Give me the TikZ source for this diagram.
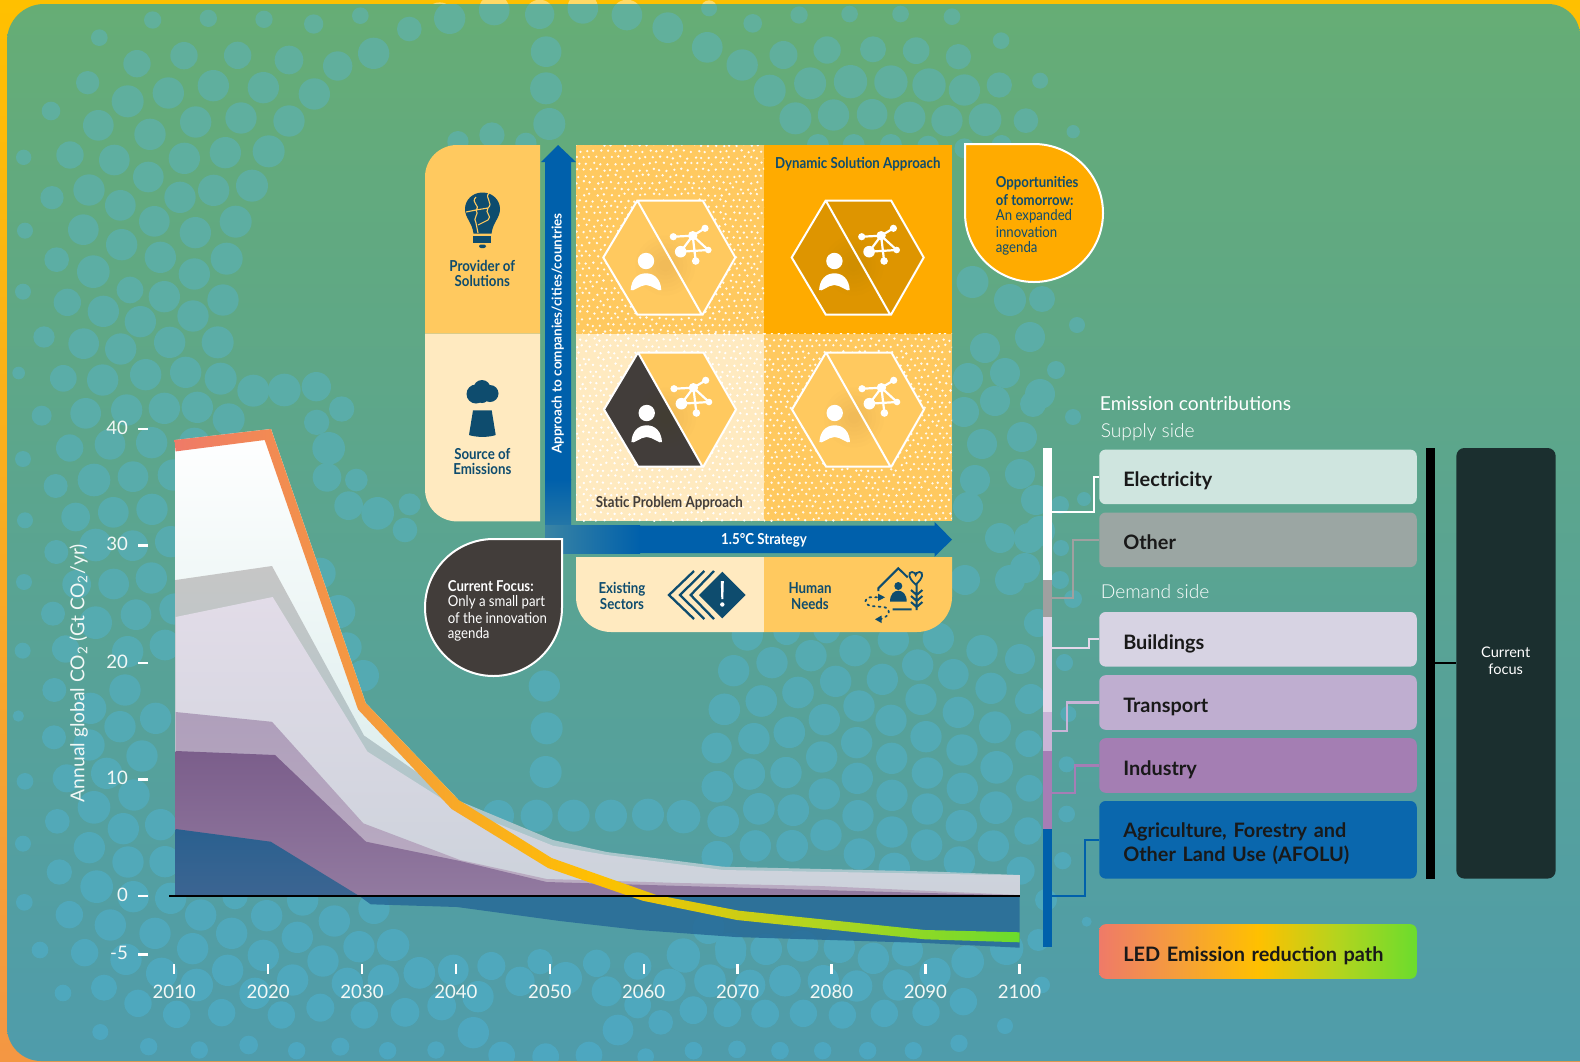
\documentclass[tikz,border=0pt]{standalone}
\usepackage{fontspec}
\usetikzlibrary{calc}
\setmainfont{Lato}
\newfontfamily\lalight{Lato Light}
\newfontfamily\nrw[FakeStretch=0.88]{Lato}
\definecolor{bubT}{HTML}{61B09B}
\definecolor{bubB}{HTML}{4DA7C0}
\definecolor{navy}{HTML}{0E4C6E}
\definecolor{charc}{HTML}{423D3A}
\definecolor{midor}{HTML}{FFC95F}
\definecolor{lightor}{HTML}{FFEAC0}
\definecolor{stror}{HTML}{FFAB00}
\definecolor{darkor}{HTML}{DE9500}
\definecolor{arrowb}{HTML}{0060AB}
\definecolor{arrowf}{HTML}{3A84A4}
\definecolor{ledA}{HTML}{EF7A68}
\definecolor{ledB}{HTML}{F59E3A}
\definecolor{ledC}{HTML}{FFC000}
\definecolor{ledD}{HTML}{B4D41E}
\definecolor{ledE}{HTML}{6BDC2D}
\definecolor{pT}{RGB}{102,173,117}
\definecolor{pM}{RGB}{93,168,146}
\definecolor{pB}{RGB}{79,156,171}
\definecolor{elB}{RGB}{210,232,231}
\definecolor{otT}{RGB}{198,198,198}
\definecolor{otM}{RGB}{196,205,203}
\definecolor{otB}{RGB}{166,198,204}
\definecolor{buT}{RGB}{226,220,232}
\definecolor{buB}{RGB}{204,210,219}
\definecolor{trT}{RGB}{175,159,187}
\definecolor{trB}{RGB}{186,172,194}
\definecolor{inT}{RGB}{123,94,139}
\definecolor{inB}{RGB}{146,122,160}
\definecolor{afT}{RGB}{42,96,143}
\definecolor{afB}{RGB}{60,101,146}
\definecolor{afN}{RGB}{40,107,152}
\definecolor{sgOther}{RGB}{160,160,160}
\definecolor{sgBuild}{RGB}{227,216,234}
\definecolor{sgTrans}{RGB}{201,180,215}
\definecolor{sgInd}{RGB}{166,125,181}
\definecolor{bxE}{RGB}{207,229,223}
\definecolor{bxO}{RGB}{155,166,163}
\definecolor{bxB}{RGB}{215,211,227}
\definecolor{bxT}{RGB}{191,174,208}
\definecolor{bxI}{RGB}{164,126,179}
\definecolor{bxA}{RGB}{10,103,173}
\definecolor{bxF}{RGB}{27,47,47}
\pgfdeclarehorizontalshading{ledshade}{100bp}{color(0bp)=(ledA); color(25bp)=(ledA); color(37.5bp)=(ledB); color(50bp)=(ledC); color(62.5bp)=(ledD); color(75bp)=(ledE); color(100bp)=(ledE)}
\newcommand\bubs[5]{\foreach \qa/\qb/\qc in {#5}{\pgfmathsetmacro\bx{#1+\qa/#3}\pgfmathsetmacro\by{#2+\qb/#4}\pgfmathsetmacro\br{\qc/#4}\pgfmathtruncatemacro\bt{min(100,max(0,\by/10.61))}\fill[bubB!\bt!bubT] (\bx,\by) circle[radius=\br];}}
\newcommand\dotfield[5]{\begin{scope}\clip (#1,#2) rectangle (#3,#4);
\foreach \i in {0,...,31}{\foreach \j in {0,...,27}{\pgfmathsetmacro\ddx{#1+7.0*\j+3.5*mod(\i,2)+1.3*rand}\pgfmathsetmacro\ddy{#2+6.2*\i+1.3*rand}\fill[#5] (\ddx,\ddy) circle[radius=1.3];}}\end{scope}}
\newcommand\hexicon[4]{\begin{scope}[shift={(#1,#2)}]
\fill[#3] (-66,0)--(-32,-57)--(32.4,57)--(-32,57)--cycle;
\fill[#4] (-32,-57)--(33.4,-57)--(66,0)--(33.4,57)--(32.4,57)--cycle;
\begin{scope}\clip (-66,0)--(-32,-57)--(33.4,-57)--(66,0)--(33.4,57)--(-32,57)--cycle;
\foreach \gr in {6,10,14,18,22,26,30}{\fill[black!40!brown,opacity=.012] (-4,8) circle[radius=\gr];}\end{scope}
\draw[white,line width=1pt,line join=miter] (-66,0)--(-32,-57)--(33.4,-57)--(66,0)--(33.4,57)--(-32,57)--cycle (-32,-57)--(32.4,57);
\fill[white] (-23.3,3.5) circle[radius=8.2];
\fill[white] (-38.6,32.5) .. controls (-38,22) and (-32,15.8) .. (-23.3,15.8) .. controls (-14.6,15.8) and (-8.6,22) .. (-8,32.5) .. controls (-10,35) and (-17,27.5) .. (-23.3,27.5) .. controls (-29.6,27.5) and (-36.6,35) .. (-38.6,32.5) -- cycle;
\draw[white,line width=1.1pt] (23.4,-21.8)--(35.7,-29.2) (23.4,-21.8)--(4,-20.8) (23.4,-21.8)--(11.4,-5.8) (23.4,-21.8)--(26.4,3.5) (23.4,-21.8)--(39,-7.5) (11.4,-5.8)--(39,-7.5);
\fill[white] (23.4,-21.8) circle[radius=4.7] (35.7,-29.2) circle[radius=3.6] (4,-20.8) circle[radius=3.6] (11.4,-5.8) circle[radius=5.8] (26.4,3.5) circle[radius=3.8] (39,-7.5) circle[radius=3.3];
\end{scope}}
\tikzset{
 gridtxt/.style={font=\nrw\bfseries\fontsize{7.55}{7.9}\selectfont,text=navy,align=center,inner sep=0pt},
 tick/.style={white,line width=1.2pt},
 ylab/.style={font=\fontsize{9.3}{11}\selectfont,text=white!92!pM,anchor=east,inner sep=0pt},
 xlab/.style={font=\fontsize{9.3}{11}\selectfont,text=white!92!pM,inner sep=0pt},
 catbox/.style={rounded corners=3.2pt,minimum width=158.75pt,minimum height=27.3pt,inner xsep=12pt,inner ysep=0pt,text width=134.75pt,align=left,font=\bfseries\fontsize{9.95}{12}\selectfont,text=black!90,text height=10pt,text depth=0pt},
 stepline/.style={line width=1.05pt},
 headtxt/.style={font=\fontsize{9.6}{11.5}\selectfont,text=white,anchor=west,inner sep=0pt},
 subtxt/.style={font=\lalight\fontsize{9.6}{11.5}\selectfont,text=white,anchor=west,inner sep=0pt},
 bubtxt/.style={font=\nrw\fontsize{7.5}{8}\selectfont,anchor=west,inner sep=0pt},
 bubbold/.style={bubtxt,font=\nrw\bfseries\fontsize{7.5}{8}\selectfont},
}
\begin{document}
\begin{tikzpicture}[x=0.5pt,y=-0.5pt]
\useasboundingbox (0,0) rectangle (1580,1061);
% frame
\shade[top color=ledC,bottom color=ledB!80!ledA] (0,0) rectangle (1580,1061);
\fill[ledC!60!white] (494.2,10) circle[radius=15.3] (582.7,8.3) circle[radius=15.3] (627,15) circle[radius=15.3] (439.7,18) circle[radius=15.6] (539.7,14.3) circle[radius=14.6] (709,8.3) circle[radius=8];
% panel
\def\panelpath{(7,41) .. controls (7,20.6) and (23.6,4) .. (44,4) -- (1548,4) .. controls (1565.7,4) and (1580,18.3) .. (1580,36) -- (1580,1061) -- (41,1061) .. controls (22.2,1061) and (7,1045.8) .. (7,1027) -- cycle}
\shade[top color=pT,middle color=pM,bottom color=pB] \panelpath;
\begin{scope}\clip \panelpath;
\bubs{0}{0}{3}{3}{458/60/26,625/55/26,792/58/26,941/72/29,1081/47/25,298/113/25,411/191/41,552/167/41,713/166/41,867/180/43,1013/198/44,1121/160/47,263/248/35,383/304/48,505/279/47,640/257/47,790/263/47,943/282/47,153/333/28,295/376/46,450/403/47,587/366/47,723/354/47,867/363/47,71/472/23,210/465/41,343/480/46,553/475/47,676/458/47,806/454/48,445/531/46,267/570/47,156/593/35,361/616/46,540/592/47,641/571/47,756/557/48,75/692/24,250/689/46,463/664/46,586/698/47,707/665/48,170/779/37,365/734/47,280/815/49,481/772/47,583/822/47,680/776/48}
\bubs{0}{290}{3}{3}{69/5/24,202/37/41,310/64/47,390/0/40,493/20/47,421/95/47,579/78/47,669/30/47,132/141/32,251/161/46,362/177/47,509/157/47,653/157/48,56/249/19,190/265/40,308/270/47,437/254/47,557/247/47,662/266/48,760/302/48,853/300/49,949/290/44,125/377/30,257/370/46,380/360/47,493/355/47,592/352/47,686/388/48,1025/357/38,950/397/38,583/460/47,209/474/41,330/463/46,455/458/47,69/507/24,986/475/49,282/570/49,399/560/46,520/555/47,167/588/36,981/562/43,1069/570/34,340/667/46,456/658/47,227/681/43,75/691/24,1046/647/43,1133/670/49,1229/643/33,1215/720/37,512/755/47,398/767/46,169/786/36,287/765/49,960/850/47,454/864/47,341/882/46,72/876/24,230/883/43,1016/965/50,408/974/46,287/998/49,159/971/36,525/957/47,495/1065/46,383/1085/47,197/1077/41,68/1082/24,1040/1072/45,1090/1157/47}
\bubs{0}{680}{3}{3}{55/108/17,163/30/36,272/85/47,375/30/47,360/140/47,467/115/47,162/172/36,267/195/47,426/228/47,320/280/47,200/295/42,75/304/25,402/345/47,282/382/49,172/424/37,370/446/47,482/434/47,69/491/24,268/503/47,384/546/47,495/545/47,178/576/38,290/620/49,400/650/47,512/655/47,73/667/25,208/704/41,331/735/47,602/705/47,705/650/38,800/707/47,908/660/47,1003/723/47,1122/685/47,465/760/47,695/760/47,892/772/47,578/806/47,254/818/41,120/810/25,790/826/47,969/843/47,1077/800/47,1178/796/47,378/838/47,683/871/47,485/880/47,878/900/47,1042/910/47,1150/900/47,1258/878/47,590/915/49,312/923/39,189/939/25,765/940/47,414/970/41,530/1003/41,665/998/41,844/1005/41,961/983/42,1093/1005/41,1216/998/41,301/1056/24,446/1100/26,598/1110/26,746/1095/28,890/1112/26,1021/1100/27,1163/1112/26}
\bubs{400}{680}{3}{3}{433/18/47,440/145/48,437/276/48,295/407/47,410/407/48,521/407/48,633/407/48,744/404/48,853/411/48,973/88/47,1084/63/47,1194/38/47,1168/157/47,1061/176/46,950/205/45,1049/283/46,1158/278/47,952/320/47,1077/386/47,1180/391/47,969/424/47,1066/497/46,1176/497/47,952/530/47,-20/795/48,58/879/47,160/870/46,274/858/42,420/845/38,360/904/44,497/895/49,590/850/41,620/934/45,713/858/41,808/915/49,855/834/44,930/905/47,992/820/46,1098/808/47,1050/915/46,1155/902/47,234/950/47,125/978/43,15/997/43,713/975/40,880/991/41,982/1000/41,1096/1002/41,220/1058/47,654/1050/46,782/1027/37,108/1110/26,305/1125/40,437/1130/40,567/1125/40,737/1130/25,881/1112/26,1011/1108/26,1140/1112/26,925/745/47}
\bubs{680}{630}{3}{3}{202/15/47,320/5/40,440/0/40,640/30/47,775/25/47,525/62/47,393/77/47,276/98/47,161/122/47,713/105/47,906/62/47,1018/90/42,467/154/47,607/148/47,820/133/46,354/187/47,933/175/47,723/208/47,244/213/47,537/228/47,133/238/47,1045/212/40,835/247/47,433/269/47,633/271/47,328/307/47,945/292/48,222/326/47,530/338/47,738/320/47,110/353/45,1046/341/40,846/360/47,425/381/47,635/385/47,318/427/46,950/412/49,208/432/47,532/445/47,742/429/47,847/475/47,112/470/47,1048/475/40,433/492/47,636/496/47,340/540/47,236/537/47,534/557/47,742/537/47,948/533/49,10/560/50,130/574/47,844/587/47,438/615/47,636/606/47,1044/603/41,337/648/47,226/648/47,740/645/47,538/672/47,940/648/47,112/680/47,838/696/47,643/715/47,1022/722/42,1153/97/25,1165/252/24,1160/403/24,1160/552/25,1148/692/26,1220/875/15,1098/810/33,1075/930/33,88/890/45,152/955/47,260/958/46,368/948/47,478/952/47,580/985/47,682/962/47,10/975/50,863/995/49,980/955/50,90/1050/47,315/1052/47,430/1052/47,530/1068/47,655/1065/47,765/1030/47,850/1115/41,40/1140/41,142/1147/41,255/1150/41,370/1150/41,487/1155/41,613/1150/41,738/1147/41,975/1188/24,1085/1065/25,40/1262/26,171/1258/26,300/1262/26,428/1262/26,563/1262/26,700/1262/26,837/1240/26}
\bubs{390}{0}{2.178}{3}{42/87/37,130/55/47,227/30/46,326/43/44,420/25/46,516/45/46,605/83/46,695/25/24,790/70/28,891/45/26,1001/42/25,1112/42/25,1224/50/25,1331/122/25,340/155/46,691/142/46,857/165/42,952/150/41,1052/148/39,1146/152/40,1238/170/38,767/195/47,340/265/48,915/250/48,1003/245/50,1091/246/50,1174/255/50,1251/270/47,1327/255/38,1416/242/24,827/272/48,347/372/48,883/355/48,966/345/47,1050/343/46,1132/352/47,1213/362/47,1296/359/49,1385/362/37,1488/395/20,222/405/38,148/425/32,296/430/32,932/435/33,1010/435/33,1091/435/33,1172/440/33,1251/445/30,1332/435/30}
\bubs{0}{0}{1}{1}{972.5/282/16,1010/300/16,1042/299/13,1077/325/8,985/348/15,1030/337/15,968/378/15,1005/373/15,1056/370/9,995/401/15,1040/394/15,1073/417/8,964/412/15,982/444/15,1022/437/15,975/480/15,1020/474/15,968/507/15,1000/538/15,1040/531/15,1060/505/9,965/580/15,1010/580/15,1060/580/9,1033/404/13,1084/499/7,1061/548/8,1073/599/9,1036/500/15,1029/538/15,1025/568/15,1038/623/14,1020/659/15,1031/698/14,1065/663/8}
\end{scope}
% --- chart ---
\shade[top color=white,bottom color=elB] (175.6,440)--(271,429)--(365.7,703)--(458.6,800)--(458.6,896)--(175.6,896)--cycle;
\shade[top color=otT,middle color=otM,bottom color=otB] (175.6,580)--(272,566)--(364,735.5)--(457,800)--(553,840)--(606.7,852)--(723,866.7)--(936.7,871.7)--(1019.7,875)--(1019.7,896)--(175.6,896)--cycle;
\shade[top color=buT,bottom color=buB] (175.6,617)--(272.7,597)--(367.4,751.6)--(453,805.8)--(553,845.7)--(606.7,855)--(723,870)--(1003,875)--(1019.7,875)--(1019.7,896)--(175.6,896)--cycle;
\shade[top color=trT,bottom color=trB] (175.6,712)--(272,721.8)--(363.3,823.3)--(460,860)--(546.7,879)--(680,883)--(820,886)--(1019.7,895)--(1019.7,896)--(175.6,896)--cycle;
\shade[top color=inT,bottom color=inB] (175.6,751)--(275,755)--(366,841.7)--(460,861)--(546.7,882)--(820,890)--(1019.7,895.5)--(1019.7,896)--(175.6,896)--cycle;
\shade[top color=afT,bottom color=afB] (175.6,829)--(270.7,841.7)--(359.3,896)--(175.6,896)--cycle;
\fill[afN,fill opacity=.88] (359.3,896)--(1019.7,896)--(1019.7,947.7)--(925,943)--(735.6,937)--(639,930)--(560,921)--(457,907)--(370.7,904.3)--cycle;
\shade[shading=ledshade] (174.5,440)--(271,429)--(365.7,703)--(458.6,800)--(551.6,858)--(656.4,895)--(739,910.7)--(925,930)--(1019.7,932.3)--(1019.7,942.3)--(925,939.3)--(737,920)--(642.6,900.7)--(548,868)--(451.6,809)--(358,709.4)--(264.7,440)--(175.6,451.4)--cycle;
\coordinate (zl) at (169,896); \coordinate (zr) at (1019.7,896);
\draw[black,line width=1pt] (zl)--(zr);
% y axis
\foreach \v/\yy in {40/429,30/545.4,20/662.8,10/779.3,0/896,-5/954.3}{
 \draw[tick] (138,\yy)--(147.5,\yy);
 \node[ylab] (yl\v) at (128.3,\yy-1.2) {\v};}
\node[font=\fontsize{9.6}{11}\selectfont,text=white!92!pM,rotate=90,inner sep=0pt] (ytitle) at (78.8,673) {Annual global CO\textsubscript{2} (Gt CO\textsubscript{2}/yr)};
% x axis
\foreach \yr/\xx in {2010/174.2,2020/268.1,2030/362,2040/455.9,2050/549.8,2060/643.7,2070/737.6,2080/831.5,2090/925.4,2100/1019.5}{
 \draw[tick] (\xx,964)--(\xx,973.5);
 \node[xlab] (xl\yr) at (\xx,991.5) {\yr};}
% --- grid ---
\fill[midor] (540,333.6)--(425,333.6)--(425,177) .. controls (425,159.3) and (439.3,145) .. (457,145)--(540,145)--cycle;
\fill[lightor] (540,333.6)--(425,333.6)--(425,489) .. controls (425,507) and (439.3,521.4) .. (457,521.4)--(540,521.4)--cycle;
% arrows
\fill[arrowb] (545,162)--(541,162)--(558,145)--(576,162)--(571,162)--(571,480)--(545,480)--cycle;
\shade[top color=arrowb,bottom color=arrowf] (545,479.5) rectangle (571,553);
\shade[left color=arrowf,right color=arrowb] (545,525.7) rectangle (640,553);
\fill[arrowb] (639.5,525.7)--(934.5,525.7)--(934.5,521.8)--(952,539.6)--(934.5,556.8)--(934.5,553)--(639.5,553)--cycle;
% cells
\fill[midor] (576,145) rectangle (764,333.6);
\fill[stror] (764,145) rectangle (952,333.6);
\fill[lightor] (576,333.6) rectangle (764,521.4);
\fill[midor] (764,333.6) rectangle (952,521.4);
\pgfmathsetseed{1234}
\dotfield{576}{145}{764}{333.6}{white!90!midor}
\dotfield{576}{333.6}{764}{521.4}{white}
\dotfield{764}{333.6}{952}{521.4}{white!90!midor}
\hexicon{669.3}{257.5}{midor}{midor}
\hexicon{857.7}{257.5}{darkor}{darkor}
\hexicon{670}{409.5}{charc}{midor}
\hexicon{858}{409.5}{midor}{midor}
% bottom row
\fill[lightor] (764,557)--(764,632)--(611,632) .. controls (591.7,632) and (576,616.3) .. (576,597)--(576,557)--cycle;
\fill[midor] (764,557)--(764,632)--(917,632) .. controls (936.3,632) and (952,616.3) .. (952,597)--(952,557)--cycle;
% grid texts
\node[gridtxt] (prov) at (482.3,273.5) {Provider of\\Solutions};
\node[gridtxt] (sour) at (482.3,461.5) {Source of\\Emissions};
\node[gridtxt] (dyn) at (857.8,164.6) {Dynamic Solution Approach};
\node[gridtxt,text=charc] (stat) at (669.4,503.6) {Static Problem Approach};
\node[font=\bfseries\fontsize{6.75}{8}\selectfont,text=white,rotate=90,inner sep=0pt] (vert) at (557.8,333.6) {Approach to companies/cities/countries};
\node[gridtxt,text=white] (hor) at (764,540.7) {1.5°C Strategy};
\node[gridtxt] (exist) at (622,596) {Existing\\Sectors};
\node[gridtxt] (human) at (810,596) {Human\\Needs};
% bulb
\fill[navy] (482.5,192.5) .. controls (472.5,192.5) and (465,200) .. (465,209) .. controls (465,218) and (472,222) .. (473.5,233.5) -- (491.5,233.5) .. controls (493,222) and (500,218) .. (500,209) .. controls (500,200) and (492.5,192.5) .. (482.5,192.5) -- cycle;
\draw[midor,line width=.55pt] (476,197) .. controls (470,203) and (481,205) .. (476,210) -- (466,212) (476,210) .. controls (480,214) and (472,218) .. (476,223) -- (478,233) (489,193) .. controls (484,198) and (494,203) .. (488,208) -- (476,210) (488,208) .. controls (484,213) and (493,216) .. (488,220) -- (478,225);
\fill[navy] (473.4,236) rectangle (491,242.5);
\fill[navy,rounded corners=1pt] (479,244.5) rectangle (486,248);
% cloud + stack
\fill[navy] (476,394) circle[radius=9.5] (482,388.5) circle[radius=8.5] (490,393.5) circle[radius=8.5] (482,396) circle[radius=7];
\fill[navy] (473,410.4)--(491.7,410.4)--(495.7,435) .. controls (489,437.5) and (476,437.5) .. (469,435) -- cycle;
% chevrons and diamond
\draw[navy,line width=1.15pt] (694,571)--(669,595)--(694,619) (704.3,571)--(680,595)--(704.3,619) (714,571)--(690.7,595)--(714,619);
\fill[navy] (722.3,571.7)--(745.6,595)--(722.3,618.3)--(699,595)--cycle;
\fill[white] (720.8,581)--(723.8,581)--(723.3,599)--(721.3,599)--cycle (722.3,604.5) circle[radius=2.2];
% human needs
\draw[navy,line width=1pt,line join=miter] (878.3,591)--(878.3,588.3)--(898.3,568.3)--(907.7,577.3);
\fill[navy] (898.3,586) circle[radius=4];
\fill[navy] (890,601.7) .. controls (890,594) and (894,590.7) .. (898.3,590.7) .. controls (902.6,590.7) and (906.7,594) .. (906.7,601.7) -- cycle;
\draw[navy,line width=1pt] (892.7,609.3)--(911.7,609.3) (916.7,584)--(916.7,610) (911,590)--(916.7,595)--(922.4,590) (911,596)--(916.7,601)--(922.4,596) (911,602)--(916.7,607)--(922.4,602);
\draw[navy,line width=.9pt] (915.7,584.5) .. controls (908,578) and (908,572) .. (912,572) .. controls (914,572) and (915.7,573.5) .. (915.7,575) .. controls (915.7,573.5) and (917.5,572) .. (919.5,572) .. controls (923.5,572) and (923.5,578) .. (915.7,584.5) -- cycle;
\draw[navy,line width=.9pt,dotted,line cap=round] (877,597.3)--(870,597.3) .. controls (864,598) and (864,604) .. (870,606) -- (884,607) .. controls (892,609) and (890,616) .. (881,619);
\fill[navy] (878,593.6)--(885,597.3)--(878,601)--cycle (881.5,615.5)--(875,619.3)--(881.5,623)--cycle;
% teardrops
\draw[white,line width=1pt,fill=charc] (562,539) -- (493.5,539) .. controls (455.7,539) and (425,569.7) .. (425,607.5) .. controls (425,645.3) and (455.7,676) .. (493.5,676) .. controls (531.3,676) and (562,645.3) .. (562,607.5) -- cycle;
\draw[white,line width=1pt,fill=stror] (965,144) -- (1034,144) .. controls (1072,144) and (1103,175) .. (1103,213) .. controls (1103,251) and (1072,282) .. (1034,282) .. controls (996,282) and (965,251) .. (965,213) -- cycle;
\node[bubbold,text=white] (cf1) at (447.5,586) {Current Focus:};
\node[bubtxt,text=white] (cf2) at (447.5,602) {Only a small part};
\node[bubtxt,text=white] (cf3) at (447.5,618) {of the innovation};
\node[bubtxt,text=white] (cf4) at (447.5,634) {agenda};
\node[bubbold,text=navy] (op1) at (995.5,183.6) {Opportunities};
\node[bubbold,text=navy] (op2) at (995.5,200.4) {of tomorrow:};
\node[bubtxt,text=navy] (op3) at (995.5,216.4) {An expanded};
\node[bubtxt,text=navy] (op4) at (995.5,232) {innovation};
\node[bubtxt,text=navy] (op5) at (995.5,248) {agenda};
% --- legend ---
\node[headtxt] (t1) at (1099.5,403.7) {Emission contributions};
\node[subtxt] (t2) at (1100.4,432.2) {Supply side};
\node[subtxt] (t3) at (1100.4,591.5) {Demand side};
\fill[white] (1042.5,448) rectangle (1051.8,580);
\fill[sgOther] (1042.5,580) rectangle (1051.8,617.2);
\fill[sgBuild] (1042.5,617.2) rectangle (1051.8,712);
\fill[sgTrans] (1042.5,712) rectangle (1051.8,751);
\fill[sgInd] (1042.5,751) rectangle (1051.8,829);
\fill[arrowb] (1042.5,829) rectangle (1051.8,947.4);
\node[catbox,fill=bxE] (boxE) at (1258,476.9) {Electricity};
\node[catbox,fill=bxO] (boxO) at (1258,539.8) {Other};
\node[catbox,fill=bxB] (boxB) at (1258,639.3) {Buildings};
\node[catbox,fill=bxT] (boxT) at (1258,702.5) {Transport};
\node[catbox,fill=bxI] (boxI) at (1258,765.5) {Industry};
\node[catbox,fill=bxA,minimum height=38.8pt,text height=0pt,text depth=2.4pt] (boxA) at (1258,839.8) {Agriculture, Forestry and\\Other Land Use (AFOLU)};
\node[catbox,shading=ledshade] (boxL) at (1258,951.5) {LED Emission reduction path};
\coordinate (bE) at (1051.8,511.7);
\coordinate (bO) at (1051.8,598);
\coordinate (bB) at (1051.8,648);
\coordinate (bT) at (1051.8,731);
\coordinate (bI) at (1051.8,792.8);
\coordinate (bA) at (1051.8,896);
\draw[stepline,white] (bE) -- ++(42,0) |- (boxE.west);
\draw[stepline,sgOther] (bO) -- ++(21,0) |- (boxO.west);
\draw[stepline,sgBuild] (bB) -- ++(36.8,0) |- (boxB.west);
\draw[stepline,sgTrans] (bT) -- ++(15.2,0) |- (boxT.west);
\draw[stepline,sgInd] (bI) -- ++(23.6,0) |- (boxI.west);
\draw[stepline,arrowb] (bA) -- ++(33.2,0) |- (boxA.west);
\fill[black] (1425.7,448) rectangle (1435.3,878.6);
\coordinate (bk) at (1435.3,663.3);
\node[rounded corners=4pt,fill=bxF,minimum width=49.65pt,minimum height=215.3pt,inner sep=0pt] (cfbox) at (1506,663.3) {};
\node[align=center,inner sep=0pt,font=\fontsize{7.3}{8.7}\selectfont,text=white] (cflab) at (1505.7,661) {Current\\focus};
\draw[black,line width=1pt] (bk) -- (cfbox.west);
\end{tikzpicture}
\end{document}
